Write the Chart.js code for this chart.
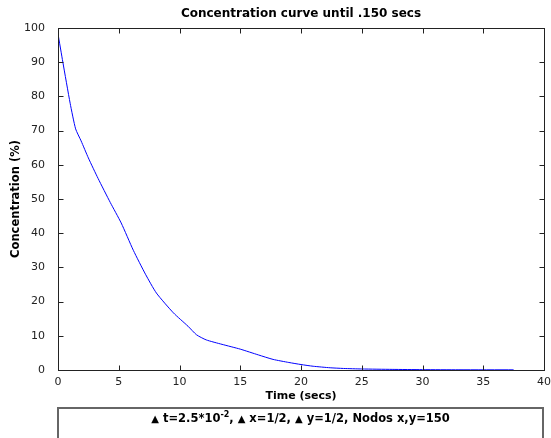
<!DOCTYPE html>
<html>
<head>
<meta charset="utf-8">
<script src="https://cdn.jsdelivr.net/npm/chart.js@4"></script>
<style>
  html, body { margin: 0; padding: 0; background: #fff; }
  #wrap { width: 551px; height: 438px; position: relative; }
</style>
</head>
<body>
<div id="wrap"><canvas id="chart" width="551" height="438"></canvas></div>
<script>
// values
const times = [0, 0.4, 1.0, 1.45, 1.9, 2.5, 3.3, 4.3, 5.2, 6.2, 7.2, 8.1, 9.5, 10.7, 11.4, 12.2, 13.5, 15, 16.5, 17.7, 19, 20, 21, 22.4, 23.5, 25, 27.5, 30, 33, 37.5];
const concentration = [98.3, 90, 78, 70.5, 67, 62, 56, 49, 43, 35, 28, 22.5, 16.7, 12.8, 10.3, 8.8, 7.5, 6.1, 4.4, 3.1, 2.2, 1.6, 1.1, 0.65, 0.45, 0.3, 0.18, 0.1, 0.06, 0.05];
const xTicks = [0, 5, 10, 15, 20, 25, 30, 35, 40];
const yTicks = [0, 10, 20, 30, 40, 50, 60, 70, 80, 90, 100];
const titleText = 'Concentration curve until .150 secs';
const xLabel = 'Time (secs)';
const yLabel = 'Concentration (%)';
// note under the plot: [text, kind]
const noteParts = [['▲', 'tri'], [' t=2.5*10', ''], ['-2', 'sup'], [', ', ''], ['▲', 'tri'], [' x=1/2, ', ''], ['▲', 'tri'], [' y=1/2, Nodos x,y=150', '']];

const FONT = 'DejaVu Sans';
const points = times.map((t, i) => ({ x: t, y: concentration[i] }));

// matlab style box + inward ticks on all four sides
const boxTicks = {
  id: 'boxTicks',
  afterDatasetsDraw(chart) {
    const { ctx, chartArea: a, scales: { x, y } } = chart;
    const L = Math.round(a.left) + 0.5, R = Math.round(a.right) + 0.5;
    const T = Math.round(a.top) + 0.5, B = Math.round(a.bottom) + 0.5;
    ctx.save();
    ctx.strokeStyle = '#222';
    ctx.lineWidth = 1;
    ctx.strokeRect(L, T, R - L, B - T);
    ctx.beginPath();
    xTicks.forEach(v => {
      const px = Math.round(x.getPixelForValue(v)) + 0.5;
      ctx.moveTo(px, B); ctx.lineTo(px, B - 5);
      ctx.moveTo(px, T); ctx.lineTo(px, T + 5);
    });
    yTicks.forEach(v => {
      const py = Math.round(y.getPixelForValue(v)) + 0.5;
      ctx.moveTo(L, py); ctx.lineTo(L + 5, py);
      ctx.moveTo(R, py); ctx.lineTo(R - 5, py);
    });
    ctx.stroke();
    ctx.restore();
  },
  afterDraw(chart) {
    const { ctx, chartArea: a } = chart;
    ctx.save();
    // note box
    ctx.strokeStyle = '#666';
    ctx.lineWidth = 2;
    ctx.strokeRect(Math.round(a.left), 408, 543 - Math.round(a.left), 60);
    // note text, centred in box
    const fonts = { '': 'bold 11.5px ' + FONT, sup: 'bold 8px ' + FONT, tri: 'bold 10px ' + FONT };
    let total = 0;
    noteParts.forEach(([s, k]) => { ctx.font = fonts[k]; total += ctx.measureText(s).width; });
    let cx = (a.left + 543) / 2 - total / 2;
    const base = 422;
    ctx.fillStyle = '#000';
    ctx.textBaseline = 'alphabetic';
    ctx.textAlign = 'left';
    noteParts.forEach(([s, k]) => {
      ctx.font = fonts[k];
      ctx.fillText(s, cx, k === 'sup' ? base - 5 : base);
      cx += ctx.measureText(s).width;
    });
    ctx.restore();
  }
};

new Chart(document.getElementById('chart'), {
  type: 'line',
  data: {
    datasets: [{
      data: points,
      borderColor: '#0000ff',
      borderWidth: 1,
      pointRadius: 0,
      tension: 0.2,
      fill: false
    }]
  },
  options: {
    responsive: false,
    animation: false,
    layout: { padding: { left: 0, right: 7, top: 0, bottom: 0 } },
    plugins: {
      legend: { display: false },
      tooltip: { enabled: false },
      title: {
        display: true,
        text: titleText,
        fullSize: false,
        color: '#000',
        font: { family: FONT, size: 12, weight: 'bold' },
        padding: { top: 7, bottom: 6.6 }
      }
    },
    scales: {
      x: {
        type: 'linear',
        min: 0, max: 40,
        grid: { display: false },
        border: { display: false },
        ticks: { stepSize: 5, padding: -2, color: '#222', font: { family: FONT, size: 11 }, maxRotation: 0 },
        title: { display: true, text: xLabel, color: '#000', font: { family: FONT, size: 11, weight: 'bold' }, padding: { top: 0, bottom: 35 } },
        afterFit: s => { s.height = 68; }
      },
      y: {
        min: 0, max: 100,
        grid: { display: false },
        border: { display: false },
        ticks: { stepSize: 10, padding: 5, color: '#222', font: { family: FONT, size: 11 } },
        title: { display: true, text: yLabel, color: '#000', font: { family: FONT, size: 11.5, weight: 'bold' }, padding: { top: 9.2, bottom: 0 } },
        afterFit: s => { s.width = 58; }
      }
    }
  },
  plugins: [boxTicks]
});
</script>
</body>
</html>
